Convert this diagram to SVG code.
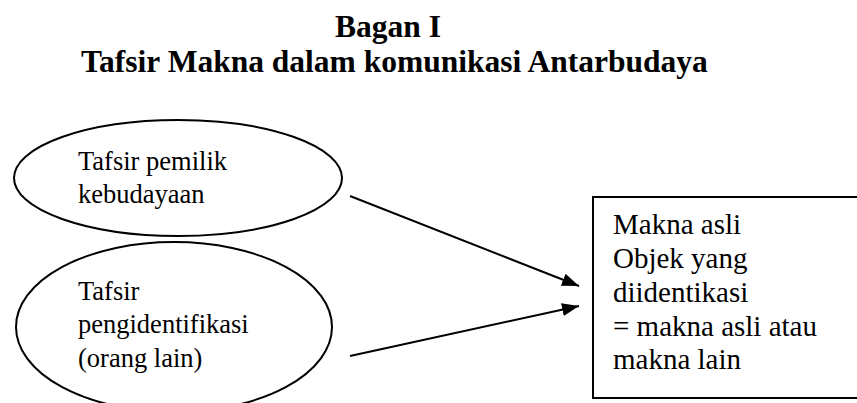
<svg xmlns="http://www.w3.org/2000/svg" width="857" height="403" viewBox="0 0 857 403">
<style>
.title{font-family:"Liberation Serif","Times New Roman",serif;font-weight:bold;font-size:31.5px;fill:#000}
.t1{font-family:"Liberation Serif","Times New Roman",serif;font-size:26.5px;fill:#000}
.t2{font-family:"Liberation Serif","Times New Roman",serif;font-size:29px;fill:#000}
.shape{fill:#fff;stroke:#000;stroke-width:2}
.conn{stroke:#000;stroke-width:2;fill:none}
</style>
<defs>
<marker id="arr" viewBox="0 0 10 10" refX="10" refY="5" markerWidth="17" markerHeight="13" markerUnits="userSpaceOnUse" orient="auto" preserveAspectRatio="none">
<path d="M0,0 L10,5 L0,10 z" fill="#000"/>
</marker>
</defs>
<rect width="857" height="403" fill="#fff"/>
<g id="title">
<text class="title" x="335" y="37">Bagan I</text>
<text class="title" x="81" y="72">Tafsir Makna dalam komunikasi Antarbudaya</text>
</g>
<g id="node-pemilik">
<ellipse class="shape" cx="178" cy="178" rx="164" ry="58"/>
<text class="t1" x="78" y="170">Tafsir pemilik</text>
<text class="t1" x="78" y="203">kebudayaan</text>
</g>
<g id="node-pengidentifikasi">
<ellipse class="shape" cx="174" cy="327" rx="158" ry="85"/>
<text class="t1" x="78" y="300">Tafsir</text>
<text class="t1" x="78" y="333">pengidentifikasi</text>
<text class="t1" x="78" y="367">(orang lain)</text>
</g>
<g id="node-makna">
<rect class="shape" x="593" y="197" width="280" height="201"/>
<text class="t2" x="613" y="234">Makna asli</text>
<text class="t2" x="613" y="268">Objek yang</text>
<text class="t2" x="613" y="302">diidentikasi</text>
<text class="t2" x="613" y="336">= makna asli atau</text>
<text class="t2" x="613" y="369">makna lain</text>
</g>
<g id="connectors">
<path class="conn" d="M350,196 L579,286" marker-end="url(#arr)"/>
<path class="conn" d="M350,356 L579,306" marker-end="url(#arr)"/>
</g>
</svg>
